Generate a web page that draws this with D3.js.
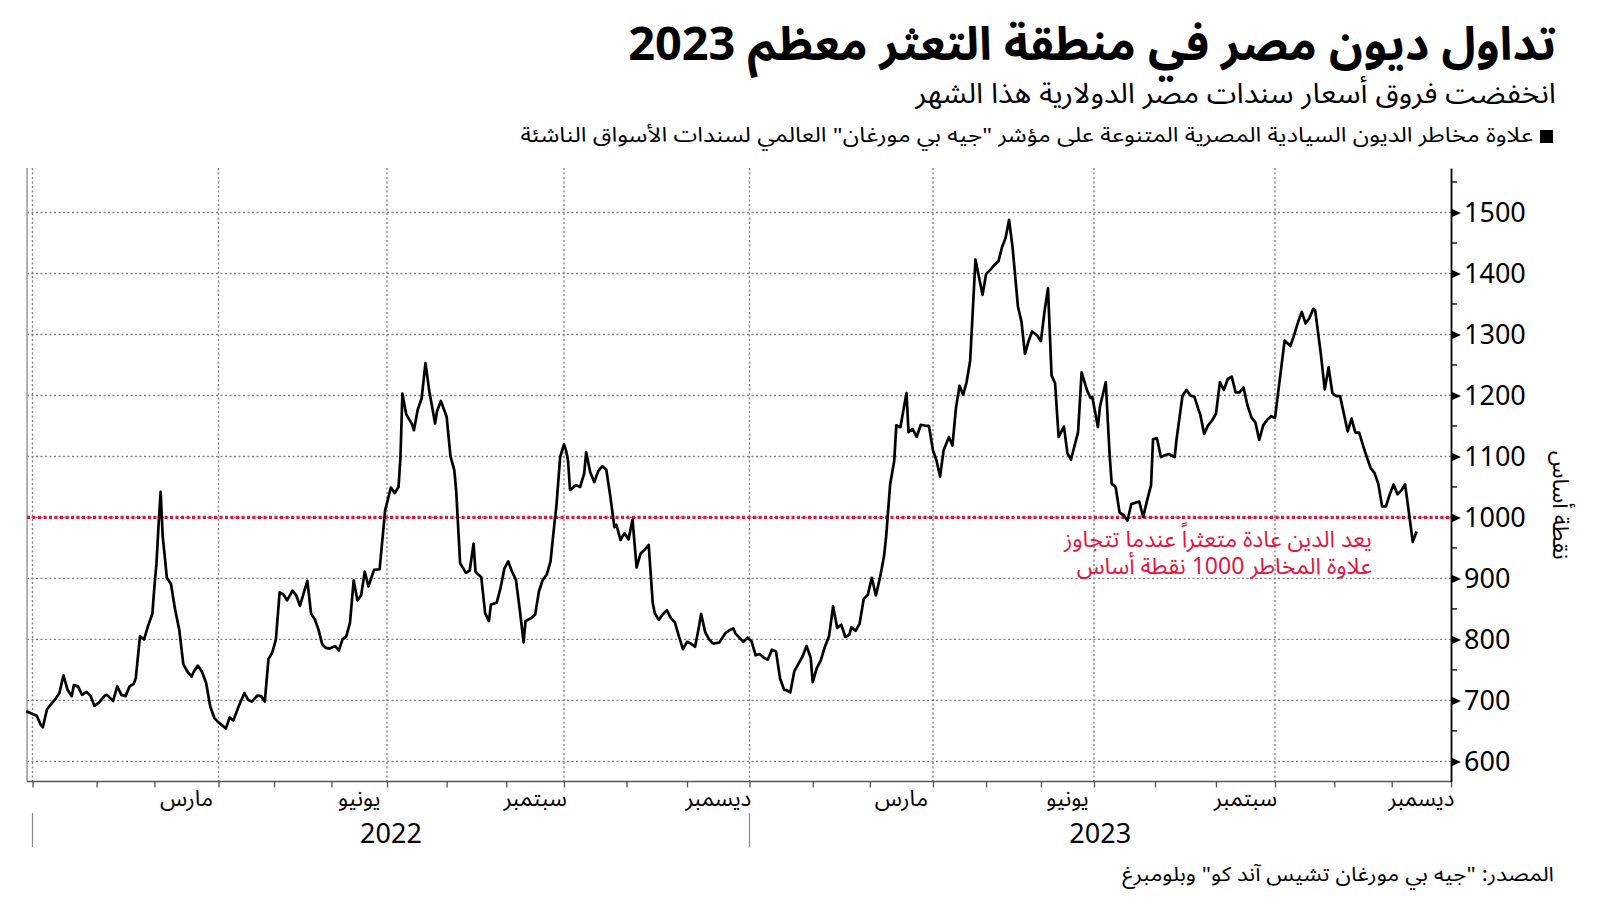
<!DOCTYPE html>
<html lang="ar">
<head>
<meta charset="utf-8">
<script src="https://cdn.jsdelivr.net/npm/d3@7"></script>
<style>
  body { margin: 0; background: #fff; }
  svg { display: block; background: #fff; }
  text { font-family: "Noto Sans Arabic", "DejaVu Sans", sans-serif; fill: #000; }
  .num { font-family: "Noto Sans", "Open Sans", sans-serif; }
</style>
</head>
<body>
<svg id="chart" width="1600" height="901"></svg>
<script>
// ---- data ----
const title = 'تداول ديون مصر في منطقة التعثر معظم 2023';
const subtitle = 'انخفضت فروق أسعار سندات مصر الدولارية هذا الشهر';
const legendLabel = 'علاوة مخاطر الديون السيادية المصرية المتنوعة على مؤشر "جيه بي مورغان" العالمي لسندات الأسواق الناشئة';
const sourceNote = 'المصدر: "جيه بي مورغان تشيس آند كو" وبلومبرغ';
const yAxisTitle = 'نقطة أساس';
const noteLines = ['يعد الدين عادة متعثراً عندما تتجاوز', 'علاوة المخاطر 1000 نقطة أساس'];
const threshold = 1000;

const yTicks = [600, 700, 800, 900, 1000, 1100, 1200, 1300, 1400, 1500];
const yMinorTicks = [650, 750, 850, 950, 1050, 1150, 1250, 1350, 1450, 1550];

// month labels (label sits in the middle of its month)
const monthLabels = [
  ['2022-03', 'مارس'], ['2022-06', 'يونيو'], ['2022-09', 'سبتمبر'], ['2022-12', 'ديسمبر'],
  ['2023-03', 'مارس'], ['2023-06', 'يونيو'], ['2023-09', 'سبتمبر'], ['2023-12', 'ديسمبر']
];
const yearLabels = [['2022', '2022-01-01', '2023-01-01'], ['2023', '2023-01-01', '2024-01-01']];

// EMBI spread over treasuries, basis points
const spread = [
  ['2021-12-29', 682],
  ['2022-01-03', 675], ['2022-01-05', 660], ['2022-01-06', 656], ['2022-01-08', 685], ['2022-01-10', 694],
  ['2022-01-12', 702], ['2022-01-14', 712], ['2022-01-16', 741], ['2022-01-18', 717], ['2022-01-20', 707],
  ['2022-01-21', 725], ['2022-01-23', 723], ['2022-01-25', 709], ['2022-01-27', 714], ['2022-01-29', 708],
  ['2022-01-31', 691],
  ['2022-02-02', 696], ['2022-02-05', 708], ['2022-02-06', 709], ['2022-02-09', 699], ['2022-02-11', 723],
  ['2022-02-13', 709], ['2022-02-15', 707], ['2022-02-17', 723], ['2022-02-19', 727], ['2022-02-20', 737],
  ['2022-02-22', 805], ['2022-02-24', 800], ['2022-02-26', 823], ['2022-02-28', 842],
  ['2022-03-01', 887], ['2022-03-02', 925], ['2022-03-03', 988], ['2022-03-04', 1042], ['2022-03-05', 969],
  ['2022-03-06', 936], ['2022-03-07', 901], ['2022-03-09', 891], ['2022-03-11', 849], ['2022-03-13', 816],
  ['2022-03-15', 759], ['2022-03-17', 747], ['2022-03-19', 739], ['2022-03-20', 747], ['2022-03-22', 757],
  ['2022-03-24', 747], ['2022-03-26', 729], ['2022-03-28', 690], ['2022-03-30', 671],
  ['2022-04-01', 664], ['2022-04-03', 659], ['2022-04-05', 654], ['2022-04-07', 672], ['2022-04-09', 667],
  ['2022-04-12', 691], ['2022-04-15', 712], ['2022-04-17', 701], ['2022-04-19', 698], ['2022-04-22', 708],
  ['2022-04-24', 707], ['2022-04-26', 698], ['2022-04-28', 768], ['2022-04-30', 778],
  ['2022-05-02', 800], ['2022-05-04', 877], ['2022-05-06', 874], ['2022-05-08', 864], ['2022-05-11', 880],
  ['2022-05-13', 872], ['2022-05-15', 855], ['2022-05-17', 876], ['2022-05-19', 896], ['2022-05-21', 842],
  ['2022-05-23', 833], ['2022-05-25', 816], ['2022-05-27', 792], ['2022-05-29', 786], ['2022-05-31', 785],
  ['2022-06-03', 789], ['2022-06-05', 782], ['2022-06-07', 800], ['2022-06-09', 805], ['2022-06-11', 827],
  ['2022-06-13', 897], ['2022-06-15', 864], ['2022-06-17', 872], ['2022-06-19', 911], ['2022-06-21', 887],
  ['2022-06-24', 914], ['2022-06-27', 915], ['2022-06-29', 979], ['2022-06-30', 1012],
  ['2022-07-03', 1049], ['2022-07-05', 1040], ['2022-07-07', 1050], ['2022-07-08', 1099], ['2022-07-09', 1203],
  ['2022-07-11', 1169], ['2022-07-14', 1153], ['2022-07-15', 1143], ['2022-07-17', 1177], ['2022-07-19', 1195],
  ['2022-07-21', 1253], ['2022-07-23', 1207], ['2022-07-26', 1154], ['2022-07-27', 1174], ['2022-07-29', 1191],
  ['2022-08-01', 1165], ['2022-08-03', 1100], ['2022-08-05', 1077], ['2022-08-06', 1042], ['2022-08-08', 925],
  ['2022-08-11', 909], ['2022-08-13', 913], ['2022-08-15', 957], ['2022-08-16', 911], ['2022-08-19', 902],
  ['2022-08-21', 843], ['2022-08-23', 830], ['2022-08-24', 857], ['2022-08-27', 860], ['2022-08-29', 884],
  ['2022-08-31', 916],
  ['2022-09-02', 928], ['2022-09-04', 911], ['2022-09-06', 898], ['2022-09-08', 849], ['2022-09-10', 795],
  ['2022-09-11', 830], ['2022-09-14', 835], ['2022-09-16', 841], ['2022-09-18', 879], ['2022-09-20', 898],
  ['2022-09-22', 906], ['2022-09-24', 928], ['2022-09-26', 989], ['2022-09-27', 1017], ['2022-09-29', 1099],
  ['2022-10-01', 1120], ['2022-10-02', 1110], ['2022-10-03', 1093], ['2022-10-04', 1045], ['2022-10-07', 1053],
  ['2022-10-09', 1050], ['2022-10-11', 1072], ['2022-10-12', 1107], ['2022-10-14', 1074], ['2022-10-16', 1058],
  ['2022-10-18', 1076], ['2022-10-20', 1084], ['2022-10-22', 1078], ['2022-10-24', 1034], ['2022-10-26', 984],
  ['2022-10-27', 988], ['2022-10-29', 963], ['2022-10-31', 974],
  ['2022-11-02', 964], ['2022-11-04', 996], ['2022-11-06', 918], ['2022-11-08', 941], ['2022-11-10', 947],
  ['2022-11-12', 955], ['2022-11-14', 860], ['2022-11-15', 843], ['2022-11-17', 832], ['2022-11-19', 841],
  ['2022-11-21', 848], ['2022-11-23', 835], ['2022-11-25', 828], ['2022-11-27', 805], ['2022-11-29', 784],
  ['2022-12-01', 796], ['2022-12-03', 793], ['2022-12-05', 788], ['2022-12-07', 822], ['2022-12-08', 842],
  ['2022-12-10', 812], ['2022-12-12', 800], ['2022-12-14', 793], ['2022-12-17', 795], ['2022-12-18', 800],
  ['2022-12-20', 810], ['2022-12-22', 815], ['2022-12-24', 818], ['2022-12-25', 810], ['2022-12-27', 803],
  ['2022-12-29', 796], ['2022-12-31', 803],
  ['2023-01-02', 797], ['2023-01-04', 774], ['2023-01-06', 776], ['2023-01-08', 770], ['2023-01-10', 767],
  ['2023-01-12', 783], ['2023-01-14', 780], ['2023-01-16', 736], ['2023-01-18', 717], ['2023-01-19', 717],
  ['2023-01-21', 713], ['2023-01-23', 748], ['2023-01-25', 760], ['2023-01-27', 772], ['2023-01-29', 789],
  ['2023-01-31', 770],
  ['2023-02-01', 730], ['2023-02-03', 753], ['2023-02-05', 766], ['2023-02-07', 788], ['2023-02-09', 805],
  ['2023-02-11', 854], ['2023-02-13', 819], ['2023-02-15', 824], ['2023-02-17', 804], ['2023-02-19', 808],
  ['2023-02-20', 820], ['2023-02-22', 814], ['2023-02-24', 826], ['2023-02-26', 866], ['2023-02-28', 873],
  ['2023-03-02', 901], ['2023-03-04', 872], ['2023-03-06', 901], ['2023-03-08', 937], ['2023-03-09', 968],
  ['2023-03-11', 1055], ['2023-03-13', 1093], ['2023-03-14', 1151], ['2023-03-16', 1148], ['2023-03-19', 1204],
  ['2023-03-20', 1140], ['2023-03-22', 1145], ['2023-03-24', 1132], ['2023-03-26', 1152], ['2023-03-29', 1150],
  ['2023-03-30', 1150],
  ['2023-04-01', 1110], ['2023-04-03', 1093], ['2023-04-05', 1067], ['2023-04-07', 1110], ['2023-04-10', 1132],
  ['2023-04-12', 1118], ['2023-04-14', 1180], ['2023-04-16', 1216], ['2023-04-18', 1201], ['2023-04-20', 1222],
  ['2023-04-22', 1257], ['2023-04-25', 1423], ['2023-04-27', 1394], ['2023-04-29', 1365],
  ['2023-05-01', 1399], ['2023-05-04', 1408], ['2023-05-06', 1415], ['2023-05-08', 1420], ['2023-05-10', 1443],
  ['2023-05-12', 1458], ['2023-05-14', 1488], ['2023-05-16', 1442], ['2023-05-19', 1346], ['2023-05-21', 1321],
  ['2023-05-23', 1268], ['2023-05-25', 1289], ['2023-05-27', 1305], ['2023-05-30', 1298],
  ['2023-06-01', 1289], ['2023-06-03', 1337], ['2023-06-05', 1376], ['2023-06-07', 1233], ['2023-06-09', 1220],
  ['2023-06-11', 1132], ['2023-06-14', 1149], ['2023-06-16', 1105], ['2023-06-18', 1095], ['2023-06-22', 1140],
  ['2023-06-24', 1238], ['2023-06-27', 1209], ['2023-06-29', 1196], ['2023-06-30', 1198],
  ['2023-07-03', 1148], ['2023-07-04', 1181], ['2023-07-07', 1222], ['2023-07-08', 1159], ['2023-07-09', 1100],
  ['2023-07-10', 1055], ['2023-07-12', 1050], ['2023-07-14', 1008], ['2023-07-16', 1004], ['2023-07-18', 995],
  ['2023-07-20', 1022], ['2023-07-21', 1023], ['2023-07-24', 1026], ['2023-07-26', 1001], ['2023-07-28', 1028],
  ['2023-07-30', 1053], ['2023-07-31', 1128],
  ['2023-08-02', 1130], ['2023-08-04', 1099], ['2023-08-06', 1102], ['2023-08-08', 1104], ['2023-08-11', 1099],
  ['2023-08-12', 1129], ['2023-08-15', 1200], ['2023-08-17', 1209], ['2023-08-19', 1200], ['2023-08-21', 1198],
  ['2023-08-23', 1178], ['2023-08-24', 1169], ['2023-08-26', 1137], ['2023-08-28', 1151], ['2023-08-30', 1159],
  ['2023-09-01', 1170], ['2023-09-03', 1222], ['2023-09-05', 1209], ['2023-09-07', 1227], ['2023-09-09', 1231],
  ['2023-09-11', 1205], ['2023-09-13', 1205], ['2023-09-15', 1213], ['2023-09-17', 1184], ['2023-09-19', 1164],
  ['2023-09-21', 1156], ['2023-09-23', 1127], ['2023-09-25', 1151], ['2023-09-27', 1160], ['2023-09-29', 1166],
  ['2023-10-01', 1163], ['2023-10-03', 1214], ['2023-10-05', 1264], ['2023-10-06', 1290], ['2023-10-09', 1281],
  ['2023-10-11', 1299], ['2023-10-13', 1320], ['2023-10-15', 1337], ['2023-10-17', 1318], ['2023-10-19', 1327],
  ['2023-10-21', 1342], ['2023-10-22', 1340], ['2023-10-25', 1267], ['2023-10-27', 1210], ['2023-10-29', 1246],
  ['2023-10-31', 1204],
  ['2023-11-02', 1199], ['2023-11-04', 1199], ['2023-11-06', 1170], ['2023-11-08', 1141], ['2023-11-10', 1162],
  ['2023-11-12', 1139], ['2023-11-14', 1139], ['2023-11-16', 1118], ['2023-11-18', 1099], ['2023-11-20', 1081],
  ['2023-11-22', 1073], ['2023-11-24', 1055], ['2023-11-26', 1018], ['2023-11-28', 1018], ['2023-11-30', 1038],
  ['2023-12-02', 1054], ['2023-12-04', 1038], ['2023-12-06', 1044], ['2023-12-08', 1054], ['2023-12-10', 1008],
  ['2023-12-12', 960], ['2023-12-14', 977]
];

// quarter boundaries used for the time axis and vertical grid
const quarterStarts = ['2022-01-01', '2022-04-01', '2022-07-01', '2022-10-01', '2023-01-01',
  '2023-04-01', '2023-07-01', '2023-10-01', '2024-01-01'];

// ---- layout ----
const plotLeft = 27, plotTop = 168, plotBottom = 781.5, axisX = 1451;
// the source chart's time axis is not perfectly even, so map each quarter to where it sits
const quarterX = [32.5, 218.5, 387, 564, 749.5, 933, 1094, 1275, 1451];
const red = '#e3173e';
const gridColor = '#808080';

const parse = d3.utcParse('%Y-%m-%d');
const series = spread.map(([d, v]) => ({ date: parse(d), value: v }));
const qDates = quarterStarts.map(parse);

const x = d3.scaleUtc().domain(qDates).range(quarterX);
const y = d3.scaleLinear().domain([567, 1573]).range([plotBottom, plotTop]);

const svg = d3.select('#chart');

// right-aligned arabic text; optional width squeezes it horizontally to fit
function rtlText(sel, str, xr, yb, size, opts = {}) {
  const g = sel.append('g').attr('transform', `translate(${xr},${yb})`);
  const t = g.append('text')
    .attr('direction', 'rtl')
    .attr('text-anchor', 'start')
    .style('font-size', size + 'px')
    .text(str);
  if (opts.weight) t.style('font-weight', opts.weight);
  if (opts.fill) t.style('fill', opts.fill);
  if (opts.width) {
    const k = opts.width / t.node().getComputedTextLength();
    g.attr('transform', `translate(${xr},${yb}) scale(${k},1)`);
  }
  return t;
}

// header
rtlText(svg, title, 1556, 60, 46, { weight: 700, width: 928 });
rtlText(svg, subtitle, 1556, 103, 28, { width: 641 });
svg.append('rect').attr('x', 1540).attr('y', 130).attr('width', 13).attr('height', 13).attr('fill', '#000');
rtlText(svg, legendLabel, 1533, 142, 20.5, { width: 1013 });

// grid
const grid = svg.append('g');
grid.selectAll('line.h').data(yTicks).join('line')
  .attr('x1', plotLeft).attr('x2', axisX)
  .attr('y1', d => y(d)).attr('y2', d => y(d))
  .attr('stroke', gridColor).attr('stroke-width', 1.4).attr('stroke-dasharray', '2,2.5');
grid.selectAll('line.v').data(qDates.slice(0, -1)).join('line')
  .attr('x1', d => x(d)).attr('x2', d => x(d))
  .attr('y1', plotTop).attr('y2', plotBottom)
  .attr('stroke', gridColor).attr('stroke-width', 1.4).attr('stroke-dasharray', '2,2.5');

// left frame line
svg.append('line').attr('x1', plotLeft).attr('x2', plotLeft).attr('y1', plotTop).attr('y2', plotBottom)
  .attr('stroke', '#9a9a9a').attr('stroke-width', 1.5);

// threshold line
svg.append('line')
  .attr('x1', plotLeft).attr('x2', axisX)
  .attr('y1', y(threshold)).attr('y2', y(threshold))
  .attr('stroke', red).attr('stroke-width', 3.2).attr('stroke-dasharray', '3,2.5');

// bottom axis with monthly ticks
const months = d3.utcMonth.range(parse('2022-01-01'), parse('2024-01-02'));
const xAxis = svg.append('g')
  .attr('transform', `translate(0,${plotBottom})`)
  .call(d3.axisBottom(x).tickValues(months).tickFormat('').tickSize(6).tickSizeOuter(0));
xAxis.select('.domain').remove();
xAxis.selectAll('.tick line').attr('stroke', '#555').attr('stroke-width', 1.3);
svg.append('line').attr('x1', plotLeft).attr('x2', axisX).attr('y1', plotBottom).attr('y2', plotBottom)
  .attr('stroke', '#555').attr('stroke-width', 1.5);

svg.append('g').selectAll('text').data(monthLabels).join('text')
  .attr('x', d => {
    const m0 = d3.utcParse('%Y-%m')(d[0]);
    return (x(m0) + x(d3.utcMonth.offset(m0, 1))) / 2;
  })
  .attr('y', 806)
  .attr('text-anchor', 'middle')
  .style('font-size', '22.5px')
  .text(d => d[1]);

// year row
svg.append('g').selectAll('line').data(yearLabels).join('line')
  .attr('x1', d => x(parse(d[1]))).attr('x2', d => x(parse(d[1])))
  .attr('y1', 813).attr('y2', 847)
  .attr('stroke', '#8a8a8a').attr('stroke-width', 1.2);
svg.append('g').selectAll('text').data(yearLabels).join('text')
  .attr('class', 'num')
  .attr('x', d => (x(parse(d[1])) + x(parse(d[2]))) / 2)
  .attr('y', 843)
  .attr('text-anchor', 'middle')
  .style('font-size', '27px')
  .text(d => d[0]);

// right axis
const yAxis = svg.append('g')
  .attr('transform', `translate(${axisX},0)`)
  .call(d3.axisRight(y).tickValues(yTicks).tickFormat(d3.format('d'))
    .tickSize(0).tickSizeOuter(0).tickPadding(13));
yAxis.select('.domain').attr('stroke', '#000').attr('stroke-width', 1.8);
yAxis.selectAll('.tick text')
  .attr('class', 'num')
  .style('font-size', '27px')
  .style('font-family', '"Noto Sans", "Open Sans", sans-serif')
  .attr('fill', '#000');
yAxis.selectAll('.tick').append('path')
  .attr('d', 'M0,-4.5L10,0L0,4.5Z')
  .attr('fill', '#000');
yAxis.selectAll('line.minor').data(yMinorTicks).join('line')
  .attr('class', 'minor')
  .attr('x1', 0).attr('x2', 6)
  .attr('y1', d => y(d)).attr('y2', d => y(d))
  .attr('stroke', '#000').attr('stroke-width', 1.3);

svg.append('text')
  .attr('transform', `translate(1553,${y(1020)}) rotate(90)`)
  .attr('text-anchor', 'middle')
  .attr('direction', 'rtl')
  .style('font-size', '23px')
  .text(yAxisTitle);

// the series
const line = d3.line().x(d => x(d.date)).y(d => y(d.value));
svg.append('path')
  .datum(series)
  .attr('d', line)
  .attr('fill', 'none')
  .attr('stroke', '#000')
  .attr('stroke-width', 2.7)
  .attr('stroke-linejoin', 'round');

// annotation
noteLines.forEach((s, i) => rtlText(svg, s, 1372, 547 + i * 27, 23, { fill: red }));

// source
rtlText(svg, sourceNote, 1554, 881, 20, { width: 432 });
</script>
</body>
</html>
